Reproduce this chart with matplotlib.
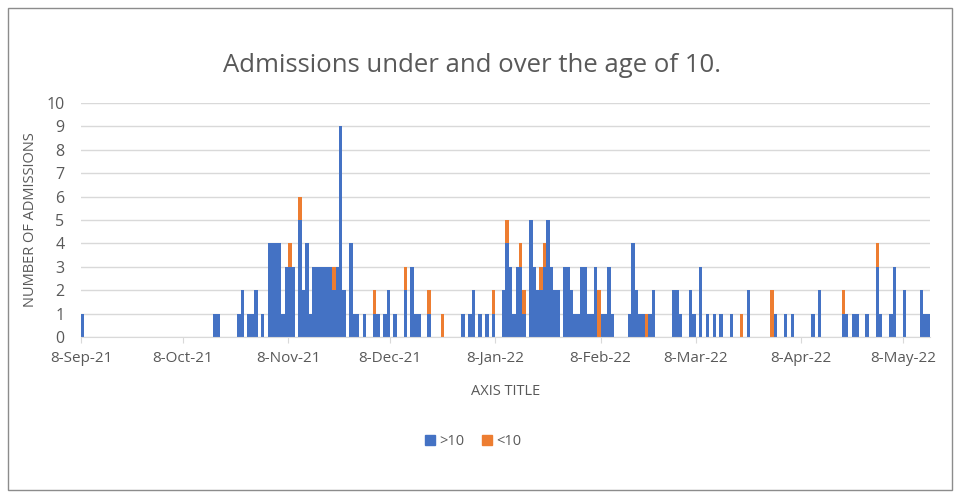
import numpy as np
import pandas as pd
import matplotlib
matplotlib.use('Agg')
import matplotlib.pyplot as plt
import matplotlib.dates as mdates
from matplotlib.patches import Patch, Rectangle
from matplotlib.ticker import FuncFormatter

# daily admissions (days not listed had none)
adm_dates = ['2021-09-08', '2021-10-17', '2021-10-18', '2021-10-24', '2021-10-25', '2021-10-27',
             '2021-10-28', '2021-10-29', '2021-10-31', '2021-11-02', '2021-11-03', '2021-11-04',
             '2021-11-05', '2021-11-06', '2021-11-07', '2021-11-08', '2021-11-09', '2021-11-11',
             '2021-11-12', '2021-11-13', '2021-11-14', '2021-11-15', '2021-11-16', '2021-11-17',
             '2021-11-18', '2021-11-19', '2021-11-20', '2021-11-21', '2021-11-22', '2021-11-23',
             '2021-11-24', '2021-11-26', '2021-11-27', '2021-11-28', '2021-11-30', '2021-12-03',
             '2021-12-04', '2021-12-06', '2021-12-07', '2021-12-09', '2021-12-12', '2021-12-14',
             '2021-12-15', '2021-12-16', '2021-12-19', '2021-12-23', '2021-12-29', '2021-12-31',
             '2022-01-01', '2022-01-03', '2022-01-05', '2022-01-07', '2022-01-10', '2022-01-11',
             '2022-01-12', '2022-01-13', '2022-01-14', '2022-01-15', '2022-01-16', '2022-01-18',
             '2022-01-19', '2022-01-20', '2022-01-21', '2022-01-22', '2022-01-23', '2022-01-24',
             '2022-01-25', '2022-01-26', '2022-01-28', '2022-01-29', '2022-01-30', '2022-01-31',
             '2022-02-01', '2022-02-02', '2022-02-03', '2022-02-04', '2022-02-05', '2022-02-06',
             '2022-02-07', '2022-02-08', '2022-02-09', '2022-02-10', '2022-02-11', '2022-02-16',
             '2022-02-17', '2022-02-18', '2022-02-19', '2022-02-20', '2022-02-21', '2022-02-22',
             '2022-02-23', '2022-03-01', '2022-03-02', '2022-03-03', '2022-03-06', '2022-03-07',
             '2022-03-09', '2022-03-11', '2022-03-13', '2022-03-15', '2022-03-18', '2022-03-21',
             '2022-03-23', '2022-03-30', '2022-03-31', '2022-04-03', '2022-04-05', '2022-04-11',
             '2022-04-13', '2022-04-20', '2022-04-21', '2022-04-23', '2022-04-24', '2022-04-27',
             '2022-04-30', '2022-05-01', '2022-05-04', '2022-05-05', '2022-05-08', '2022-05-13',
             '2022-05-14', '2022-05-15']

over_10 = [1, 1, 1, 1, 2, 1,
           1, 2, 1, 4, 4, 4,
           4, 1, 3, 3, 3, 5,
           2, 4, 1, 3, 3, 3,
           3, 3, 3, 2, 3, 9,
           2, 4, 1, 1, 1, 1,
           1, 1, 2, 1, 2, 3,
           1, 1, 1, 0, 1, 1,
           2, 1, 1, 1, 2, 4,
           3, 1, 3, 3, 1, 5,
           3, 2, 2, 3, 5, 3,
           2, 2, 3, 3, 2, 1,
           1, 3, 3, 1, 1, 3,
           0, 1, 1, 3, 1, 1,
           4, 2, 1, 1, 0, 1,
           2, 2, 2, 1, 2, 1,
           3, 1, 1, 1, 1, 0,
           2, 0, 1, 1, 1, 1,
           2, 1, 1, 1, 1, 1,
           3, 1, 1, 3, 2, 2,
           1, 1]

under_10 = [0, 0, 0, 0, 0, 0,
            0, 0, 0, 0, 0, 0,
            0, 0, 0, 1, 0, 1,
            0, 0, 0, 0, 0, 0,
            0, 0, 0, 1, 0, 0,
            0, 0, 0, 0, 0, 1,
            0, 0, 0, 0, 1, 0,
            0, 0, 1, 1, 0, 0,
            0, 0, 0, 1, 0, 1,
            0, 0, 0, 1, 1, 0,
            0, 0, 1, 1, 0, 0,
            0, 0, 0, 0, 0, 0,
            0, 0, 0, 0, 0, 0,
            2, 0, 0, 0, 0, 0,
            0, 0, 0, 0, 1, 0,
            0, 0, 0, 0, 0, 0,
            0, 0, 0, 0, 0, 1,
            0, 2, 0, 0, 0, 0,
            0, 1, 0, 0, 0, 0,
            1, 0, 0, 0, 0, 0,
            0, 0]

axis_start = '2021-09-08'
axis_end = '2022-05-16'

blue = '#4472C4'
orange = '#ED7D31'
grey_txt = '#595959'
grid_col = '#D9D9D9'

plt.rcParams['font.family'] = ['Open Sans', 'DejaVu Sans']

dates = pd.to_datetime(adm_dates)
over = np.array(over_10)
under = np.array(under_10)

fig = plt.figure(figsize=(9.62, 4.97), dpi=100)
ax = fig.add_axes([0.0842, 0.3219, 0.8825, 0.4709])

ax.bar(dates, over, width=1.0, align='edge', color=blue, linewidth=0, label='>10')
ax.bar(dates, under, width=1.0, align='edge', bottom=over, color=orange, linewidth=0, label='<10')

ax.set_ylim(0, 10)
ax.set_yticks(range(0, 11))
ax.set_xlim(pd.Timestamp(axis_start), pd.Timestamp(axis_end))
ax.xaxis.set_major_locator(mdates.MonthLocator(bymonthday=8))
ax.xaxis.set_major_formatter(FuncFormatter(
    lambda v, p: '{}-{}'.format(mdates.num2date(v).day, mdates.num2date(v).strftime('%b-%y'))))

ax.grid(axis='y', color=grid_col, linewidth=1)
ax.set_axisbelow(True)
for s in ['top', 'right', 'left']:
    ax.spines[s].set_visible(False)
ax.spines['bottom'].set_color(grid_col)
ax.tick_params(axis='y', length=0, labelsize=11.5, labelcolor=grey_txt, pad=12)
ax.tick_params(axis='x', length=4, color=grid_col, labelsize=11, labelcolor=grey_txt, pad=6)

fig.text(472 / 962, 1 - 65 / 497, 'Admissions under and over the age of 10.', fontsize=18.5,
         color=grey_txt, ha='center', va='center')
ax.set_xlabel('AXIS TITLE', fontsize=10.5, color=grey_txt, labelpad=13)
ax.set_ylabel('NUMBER OF ADMISSIONS', fontsize=10.5, color=grey_txt, labelpad=6)

handles = [Patch(color=blue, label='>10'), Patch(color=orange, label='<10')]
fig.legend(handles=handles, loc='center', bbox_to_anchor=(0.492, 0.112), ncol=2, frameon=False,
           fontsize=10.5, handlelength=0.7, handleheight=0.7, handletextpad=0.3, columnspacing=1.2,
           labelcolor=grey_txt)

fig.patches.append(Rectangle((8 / 962, 7 / 497), 944 / 962, 482 / 497, transform=fig.transFigure,
                             fill=False, edgecolor='#8C8C8C', linewidth=1))

fig.savefig('out.png', dpi=100)
